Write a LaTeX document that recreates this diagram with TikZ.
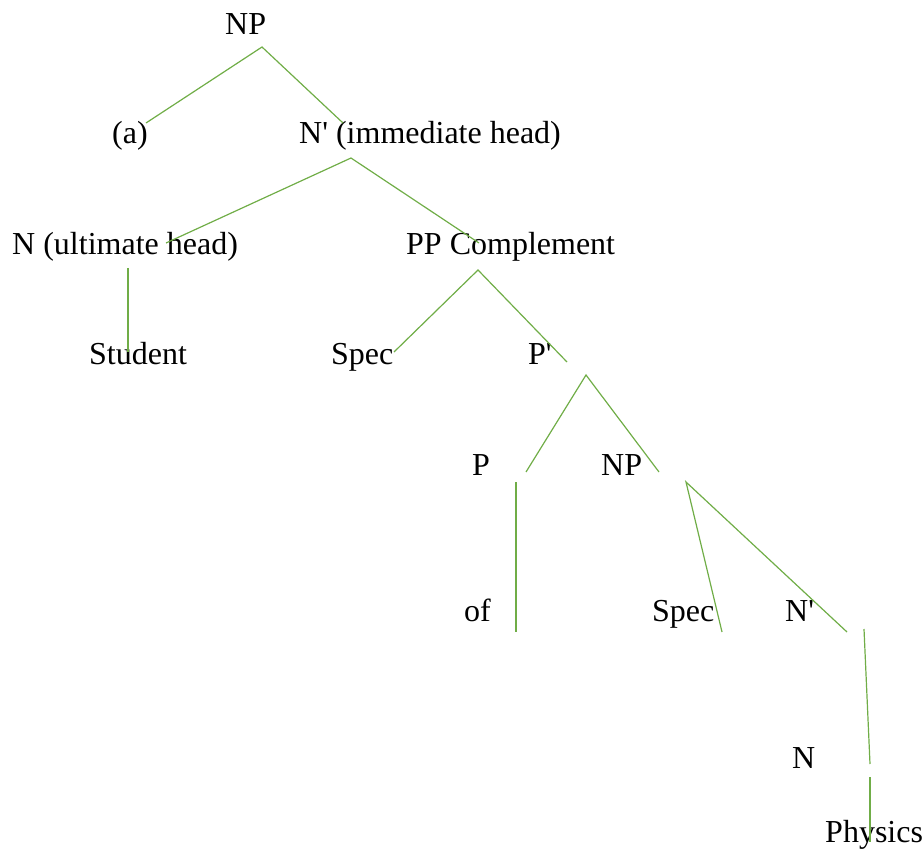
\documentclass[tikz,border=0pt]{standalone}
\usepackage{fontspec}
\setmainfont{Liberation Serif}
\definecolor{treegreen}{HTML}{70AD47}
\newcommand{\sq}{\textquotesingle}
\begin{document}
\begin{tikzpicture}[x=1pt,y=-1pt,
  lbl/.style={anchor=base west,inner sep=0pt,font=\fontsize{32}{38}\selectfont},
  branch/.style={draw=treegreen,line width=1.2pt}]
\useasboundingbox (0,0) rectangle (924,850);
% labels
\node[lbl] (np)      at (225,35)  {NP};
\node[lbl] (a)       at (112,144) {(a)};
\node[lbl] (nbar)    at (299,144) {N\sq{} (immediate head)};
\node[lbl] (n)       at (12,255)  {N (ultimate head)};
\node[lbl] (pp)      at (406,255) {PP Complement};
\node[lbl] (student) at (89,365)  {Student};
\node[lbl] (spec)    at (331,365) {Spec};
\node[lbl] (pbar)    at (528,365) {P\sq};
\node[lbl] (p)       at (472,475) {P};
\node[lbl] (npb)     at (601,475) {NP};
\node[lbl] (of)      at (464,621) {of};
\node[lbl] (specb)   at (652,621) {Spec};
\node[lbl] (nbarb)   at (785,621) {N\sq};
\node[lbl] (nb)      at (792,768) {N};
\node[lbl] (physics) at (825,842) {Physics};
% branch end points
\coordinate (np-t)    at (262,47);
\coordinate (a-e)     at (146,123);
\coordinate (nbar-e)  at (343,123);
\coordinate (nbar-t)  at (351,158);
\coordinate (n-e)     at (166,243);
\coordinate (pp-e)    at (479,243);
\coordinate (n-t)     at (128,268);
\coordinate (student-e) at (128,352);
\coordinate (pp-t)    at (478,270);
\coordinate (spec-e)  at (394,352);
\coordinate (pbar-e)  at (567,362);
\coordinate (pbar-t)  at (586,375);
\coordinate (p-e)     at (526,472);
\coordinate (npb-e)   at (659,472);
\coordinate (p-t)     at (516,482);
\coordinate (of-e)    at (516,632);
\coordinate (npb-t)   at (686,482);
\coordinate (specb-e) at (722,632);
\coordinate (nbarb-e) at (847,632);
\coordinate (nbarb-t) at (864,629);
\coordinate (nb-e)    at (870,764);
\coordinate (nb-t)    at (870,777);
\coordinate (physics-e) at (870,842);
% branches
\draw[branch] (a-e) -- (np-t) -- (nbar-e);
\draw[branch] (n-e) -- (nbar-t) -- (pp-e);
\draw[branch] (n-t) -- (student-e);
\draw[branch] (spec-e) -- (pp-t) -- (pbar-e);
\draw[branch] (p-e) -- (pbar-t) -- (npb-e);
\draw[branch] (p-t) -- (of-e);
\draw[branch] (specb-e) -- (npb-t) -- (nbarb-e);
\draw[branch] (nbarb-t) -- (nb-e);
\draw[branch] (nb-t) -- (physics-e);
\end{tikzpicture}
\end{document}
